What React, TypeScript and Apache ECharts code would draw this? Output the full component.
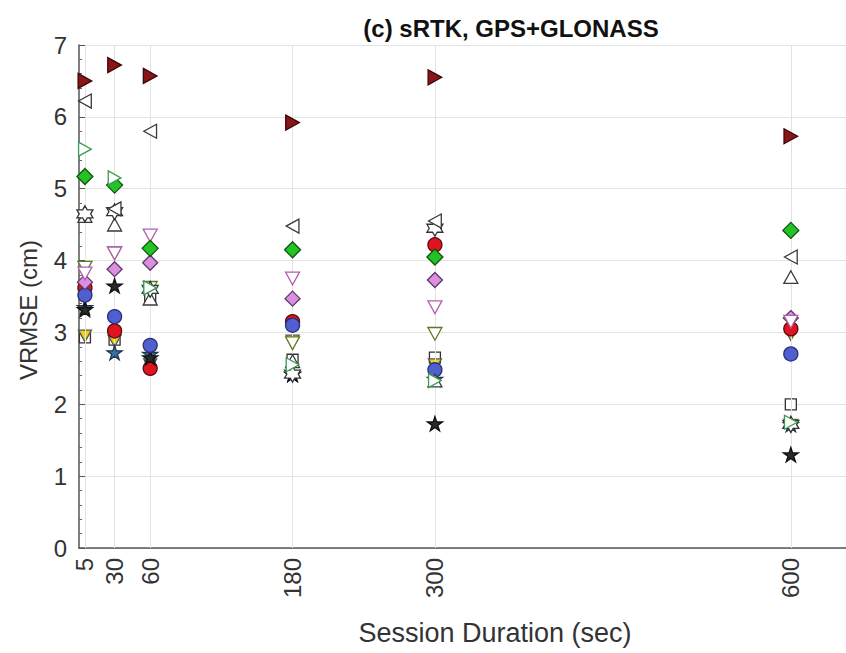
import React, { useEffect, useRef } from "react";
import * as echarts from "echarts";

const durations = [5, 30, 60, 180, 300, 600];
const xTickLabels = [5, 30, 60, 180, 300, 600];
const yTicks = [0, 1, 2, 3, 4, 5, 6, 7];

const sRightDarkRed = [6.5, 6.72, 6.57, 5.92, 6.55, 5.73];
const sLeftOpen = [6.22, 4.72, 5.8, 4.48, 4.55, 4.05];
const sRightGreen = [5.55, 5.15, 3.62, 2.55, 2.33, 1.75];
const sDiamondGreen = [5.17, 5.05, 4.17, 4.15, 4.05, 4.42];
const sHexagram = [4.65, 4.68, 3.6, 2.42, 4.45, 1.72];
const sUpOpen = [4.62, 4.5, 3.47, 2.6, 2.33, 3.77];
const sDownOlive = [3.9, 4.1, 3.62, 2.85, 2.98, 1.7];
const sDiamondPink = [3.7, 3.88, 3.97, 3.47, 3.73, 3.2];
const sCircleBlue = [3.52, 3.22, 2.82, 3.1, 2.48, 2.7];
const sStarBlack = [3.32, 3.65, 2.65, 2.42, 1.73, 1.3];
const sCircleRed = [3.62, 3.02, 2.5, 3.15, 4.22, 3.05];
const sSquareOpen = [2.93, 2.9, 3.47, 2.62, 2.65, 2.0];
const sDownPink = [3.82, 4.1, 4.35, 3.75, 3.35, 3.15];
const sStarTeal = [3.35, 2.72, 2.7, 2.42, 2.35, 1.72];
const sDownYellow = [2.95, 2.88, 2.55, 2.88, 2.55, 2.97];

const P_RIGHT = "path://M0,0L10,5.5L0,11Z";
const P_LEFT = "path://M10,0L0,5.5L10,11Z";
const P_DOWN = "path://M0,0L11,0L5.5,10Z";
const P_UP = "path://M5.5,0L11,10L0,10Z";
const P_STAR =
  "path://M5,0L6.123,3.455L9.755,3.455L6.816,5.59L7.939,9.045L5,6.91L2.061,9.045L3.184,5.59L0.245,3.455L3.877,3.455Z";
const P_HEX =
  "path://M5,0L6.44,2.5L10,2.5L8.56,5L10,7.5L6.44,7.5L5,10L3.56,7.5L0,7.5L1.44,5L0,2.5L3.56,2.5Z";

type Spec = { data: number[]; symbol: string; size: number; fill: string; edge: string };

const specs: Spec[] = [
  { data: sSquareOpen, symbol: "rect", size: 11, fill: "#ffffff", edge: "#333333" },
  { data: sDownYellow, symbol: P_DOWN, size: 13, fill: "#e8d21a", edge: "#555555" },
  { data: sStarTeal, symbol: P_STAR, size: 15, fill: "#3a6ea5", edge: "#1f3550" },
  { data: sCircleRed, symbol: "circle", size: 14, fill: "#e0141e", edge: "#5a0a0a" },
  { data: sStarBlack, symbol: P_STAR, size: 15, fill: "#2a2a2a", edge: "#111111" },
  { data: sCircleBlue, symbol: "circle", size: 14, fill: "#4f5fd0", edge: "#2a2f70" },
  { data: sDiamondPink, symbol: "diamond", size: 15, fill: "#dc8fe0", edge: "#5a3a6a" },
  { data: sDownOlive, symbol: P_DOWN, size: 14, fill: "#ffffff", edge: "#5a7a20" },
  { data: sDownPink, symbol: P_DOWN, size: 14, fill: "#ffffff", edge: "#b060b0" },
  { data: sUpOpen, symbol: P_UP, size: 14, fill: "#ffffff", edge: "#3a3a3a" },
  { data: sHexagram, symbol: P_HEX, size: 16, fill: "#ffffff", edge: "#333333" },
  { data: sDiamondGreen, symbol: "diamond", size: 16, fill: "#22c322", edge: "#145214" },
  { data: sRightGreen, symbol: P_RIGHT, size: 14, fill: "#ffffff", edge: "#3c9a50" },
  { data: sLeftOpen, symbol: P_LEFT, size: 14, fill: "#ffffff", edge: "#3a3a3a" },
  { data: sRightDarkRed, symbol: P_RIGHT, size: 15, fill: "#8a1418", edge: "#3a0808" },
];

const FONT = "Liberation Sans, Arial, sans-serif";

export default function App() {
  const ref = useRef<HTMLDivElement>(null);
  useEffect(() => {
    if (!ref.current) return;
    const chart = echarts.init(ref.current, undefined, { renderer: "svg" });
    const series: any[] = specs.map((s, i) => ({
      type: "scatter",
      data: s.data.map((v, j) => [durations[j], v]),
      symbol: s.symbol,
      symbolSize: s.size,
      symbolKeepAspect: true,
      itemStyle: { color: s.fill, borderColor: s.edge, borderWidth: 1.3, opacity: 1 },
      z: 3 + i,
      silent: true,
    }));
    series.push({
      type: "scatter",
      data: [],
      silent: true,
      markLine: {
        silent: true,
        symbol: ["none", "none"],
        label: { show: false },
        lineStyle: { color: "#e3e3e3", width: 1, type: "solid" },
        data: durations.map((d) => ({ xAxis: d })),
      },
      z: 1,
    });
    chart.setOption({
      animation: false,
      backgroundColor: "#ffffff",
      grid: { left: 79, right: 0, top: 45, bottom: 105, containLabel: false },
      xAxis: {
        type: "value",
        min: 0,
        max: 646.5,
        axisLine: { show: true, lineStyle: { color: "#555555", width: 1.5 } },
        axisTick: { show: true, inside: true, length: 6, customValues: xTickLabels, lineStyle: { color: "#555555" } },
        axisLabel: {
          customValues: xTickLabels,
          rotate: 90,
          margin: 10,
          fontSize: 24,
          color: "#333333",
          fontFamily: FONT,
        },
        splitLine: { show: false },
      },
      yAxis: {
        type: "value",
        min: 0,
        max: 7,
        interval: 1,
        axisLine: { show: true, lineStyle: { color: "#555555", width: 1.5 } },
        axisTick: { show: true, inside: true, length: 6, lineStyle: { color: "#555555" } },
        minorTick: { show: true, splitNumber: 5, length: 3, lineStyle: { color: "#666666" } },
        axisLabel: {
          margin: 12,
          fontSize: 24,
          color: "#333333",
          fontFamily: FONT,
          customValues: yTicks,
        },
        splitLine: { show: true, lineStyle: { color: "#e3e3e3", width: 1 } },
      },
      graphic: [
        {
          type: "text",
          x: 511,
          y: 28,
          style: {
            text: "(c) sRTK, GPS+GLONASS",
            font: "bold 24px Liberation Sans, Arial, sans-serif",
            fill: "#111111",
            textAlign: "center",
            textVerticalAlign: "middle",
          },
        },
        {
          type: "text",
          x: 495,
          y: 633,
          style: {
            text: "Session Duration (sec)",
            font: "27px Liberation Sans, Arial, sans-serif",
            fill: "#333333",
            textAlign: "center",
            textVerticalAlign: "middle",
          },
        },
        {
          type: "text",
          x: 28,
          y: 310,
          rotation: Math.PI / 2,
          style: {
            text: "VRMSE (cm)",
            font: "24px Liberation Sans, Arial, sans-serif",
            fill: "#333333",
            textAlign: "center",
            textVerticalAlign: "middle",
          },
        },
      ],
      series,
    });
    return () => chart.dispose();
  }, []);
  return (
    <div
      ref={ref}
      style={{ position: "fixed", left: 0, top: 0, width: 846, height: 653, background: "#fff" }}
    />
  );
}
